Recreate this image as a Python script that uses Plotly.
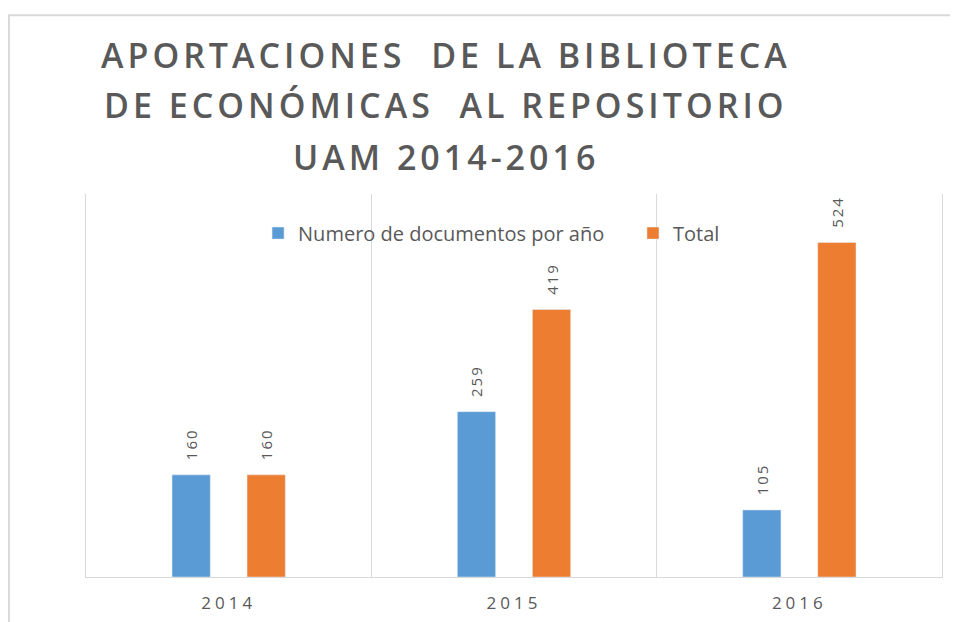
import plotly.graph_objects as go

# data
years = ["2014", "2015", "2016"]
docs_per_year = [160, 259, 105]
total_docs = [160, 419, 524]

title_lines = [
    "APORTACIONES  DE LA BIBLIOTECA",
    "DE ECONÓMICAS  AL REPOSITORIO",
    "UAM 2014-2016",
]

grey = "#595959"
blue = "#5B9BD5"
orange = "#ED7D31"
label_font = dict(size=15, color=grey, family="Open Sans")
legend_font = dict(family="Open Sans", size=20, color=grey)

fig = go.Figure()
fig.add_trace(go.Bar(x=years, y=docs_per_year, name="Numero de documentos por año",
                     marker_color=blue, texttemplate="\u00a0\u00a0\u00a0%{y}",
                     textposition="outside", textangle=-90, cliponaxis=False,
                     textfont=label_font, legend="legend"))
fig.add_trace(go.Bar(x=years, y=total_docs, name="Total",
                     marker_color=orange, texttemplate="\u00a0\u00a0\u00a0%{y}",
                     textposition="outside", textangle=-90, cliponaxis=False,
                     textfont=label_font, legend="legend2"))

# title as three centred lines
title_y = [1.363, 1.232, 1.097]
for line, yy in zip(title_lines, title_y):
    fig.add_annotation(text=line, xref="paper", yref="paper", x=0.421, y=yy,
                       xanchor="center", yanchor="middle", showarrow=False,
                       font=dict(family="Open Sans", size=34, color=grey, weight=600))

# light outer frame of the chart
fig.add_shape(type="rect", xref="paper", yref="paper",
              x0=-0.09, x1=1.05, y0=-0.2, y1=1.467,
              line=dict(color="#d9d9d9", width=2), layer="below")

fig.update_layout(
    width=950, height=614,
    margin=dict(l=78, r=16, t=186, b=45),
    paper_bgcolor="white", plot_bgcolor="white",
    barmode="group", bargap=0.474, bargroupgap=0.49,
    showlegend=True,
    legend=dict(orientation="h", x=0.201, y=0.898, xanchor="left", yanchor="middle",
                font=legend_font, bgcolor="rgba(0,0,0,0)"),
    legend2=dict(orientation="h", x=0.639, y=0.898, xanchor="left", yanchor="middle",
                 font=legend_font, bgcolor="rgba(0,0,0,0)"),
    font=dict(family="Open Sans", color=grey),
)
fig.update_xaxes(type="category", tickson="boundaries", showgrid=True,
                 gridcolor="#d9d9d9", gridwidth=1, showline=True,
                 linecolor="#d9d9d9", linewidth=1, ticks="", ticklabelstandoff=11,
                 automargin=False,
                 tickfont=dict(family="Open Sans", size=17, color=grey))
fig.update_yaxes(range=[0, 600], showgrid=False, showticklabels=False,
                 zeroline=False, showline=True, mirror=True, automargin=False,
                 linecolor="#d9d9d9", linewidth=1)

# widen the letter spacing like the original office chart
spacing_js = """
var gd = document.getElementById('{plot_id}');
function spread() {
  gd.querySelectorAll('.annotation-text').forEach(function(t) { t.style.letterSpacing = '4px'; });
  gd.querySelectorAll('.xtick text').forEach(function(t) { t.style.letterSpacing = '4px'; });
  gd.querySelectorAll('text.bartext').forEach(function(t) { t.style.letterSpacing = '2px'; });
}
spread();
gd.on('plotly_afterplot', spread);
"""

fig.write_html("out.html", post_script=spacing_js)
